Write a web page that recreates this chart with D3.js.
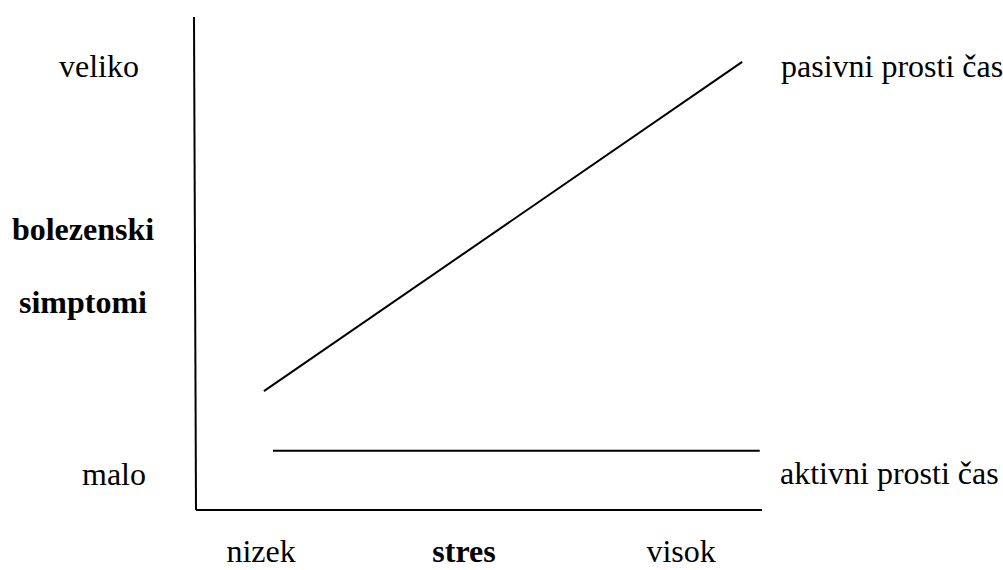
<!DOCTYPE html>
<html>
<head>
<meta charset="utf-8">
<script src="https://cdn.jsdelivr.net/npm/d3@7"></script>
<style>
  body { margin: 0; background: #fff; }
  text { font-family: "Liberation Serif", "Times New Roman", serif; fill: #000; }
</style>
</head>
<body>
<div class="chart-container"></div>
<script>
// Data (stres 0..100 on x, bolezenski simptomi 0..100 on y)
const lineNames = ['pasivni prosti čas', 'aktivni prosti čas'];
const lineStart = [[12.0, 24.1], [13.6, 12.0]];
const lineEnd = [[96.5, 90.9], [99.6, 12.0]];
const xTickLabels = ['nizek', 'visok'];
const xTickValues = [11.5, 85.7];
const yTickLabels = ['veliko', 'malo'];
const xTitle = 'stres';
const yTitle = ['bolezenski', 'simptomi'];

// Dimensions
const width = 1003, height = 570;
const x0 = 196, x1 = 762, yTop = 17, yBottom = 510;

const svg = d3.select('.chart-container')
    .append('svg')
        .attr('width', width)
        .attr('height', height);

// Scales
const x = d3.scaleLinear().domain([0, 100]).range([x0, x1]);
const y = d3.scaleLinear().domain([0, 100]).range([yBottom, yTop]);

// Axes (plain lines, no ticks)
svg.append('line')
    .attr('x1', x(0) - 2).attr('y1', y(100))
    .attr('x2', x(0)).attr('y2', y(0))
    .attr('stroke', '#000').attr('stroke-width', 2);
svg.append('line')
    .attr('x1', x(0)).attr('y1', y(0))
    .attr('x2', x(100)).attr('y2', y(0))
    .attr('stroke', '#000').attr('stroke-width', 2);

// Series lines
svg.append('g')
    .selectAll('line')
    .data(lineNames.map((n, i) => ({ name: n, a: lineStart[i], b: lineEnd[i] })))
    .join('line')
        .attr('x1', d => x(d.a[0])).attr('y1', d => y(d.a[1]))
        .attr('x2', d => x(d.b[0])).attr('y2', d => y(d.b[1]))
        .attr('stroke', '#000').attr('stroke-width', 2);

// Series labels at the right
const seriesLabelY = [77, 484];
svg.append('g')
    .selectAll('text')
    .data(lineNames)
    .join('text')
        .attr('x', (d, i) => i === 0 ? 781 : 780)
        .attr('y', (d, i) => seriesLabelY[i])
        .attr('font-size', 32)
        .text(d => d);

// Y tick labels
const yLabelPos = [[99, 77], [114, 485]];
svg.append('g')
    .selectAll('text')
    .data(yTickLabels)
    .join('text')
        .attr('x', (d, i) => yLabelPos[i][0])
        .attr('y', (d, i) => yLabelPos[i][1])
        .attr('text-anchor', 'middle')
        .attr('font-size', 32)
        .text(d => d);

// Y title (bold, two lines)
svg.append('g')
    .selectAll('text')
    .data(yTitle)
    .join('text')
        .attr('x', 83)
        .attr('y', (d, i) => i === 0 ? 240 : 313)
        .attr('text-anchor', 'middle')
        .attr('font-size', 32)
        .attr('font-weight', 'bold')
        .text(d => d);

// X tick labels
svg.append('g')
    .selectAll('text')
    .data(xTickLabels)
    .join('text')
        .attr('x', (d, i) => x(xTickValues[i]))
        .attr('y', 562)
        .attr('text-anchor', 'middle')
        .attr('font-size', 32)
        .text(d => d);

// X title
svg.append('text')
    .attr('x', 464)
    .attr('y', 562)
    .attr('text-anchor', 'middle')
    .attr('font-size', 32)
    .attr('font-weight', 'bold')
    .text(xTitle);
</script>
</body>
</html>
